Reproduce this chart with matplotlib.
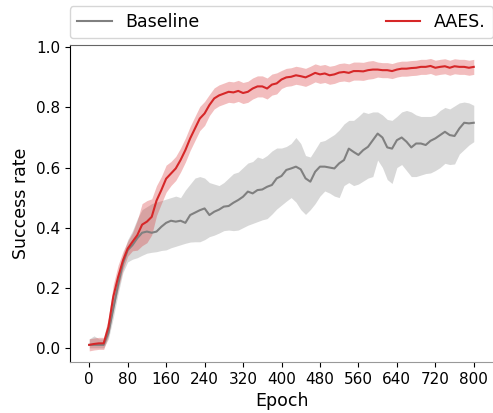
import numpy as np
import matplotlib
matplotlib.use("Agg")
import matplotlib.pyplot as plt

# Success rate per epoch, sampled every 10 epochs
epochs = np.arange(0, 801, 10)

baseline_mean = [
    0.01, 0.01, 0.01, 0.01, 0.05, 0.13, 0.21, 0.28, 0.325, 0.342,
    0.365, 0.383, 0.387, 0.383, 0.387, 0.403, 0.416, 0.423, 0.42, 0.423,
    0.416, 0.442, 0.45, 0.458, 0.464, 0.442, 0.453, 0.46, 0.47, 0.472,
    0.483, 0.492, 0.503, 0.52, 0.514, 0.525, 0.527, 0.536, 0.542, 0.564,
    0.572, 0.592, 0.597, 0.603, 0.594, 0.564, 0.553, 0.586, 0.603, 0.603,
    0.6, 0.597, 0.614, 0.625, 0.663, 0.652, 0.642, 0.658, 0.669, 0.691,
    0.713, 0.7, 0.667, 0.663, 0.691, 0.7, 0.686, 0.667, 0.68, 0.68,
    0.675, 0.689, 0.697, 0.708, 0.719, 0.708, 0.705, 0.73, 0.749, 0.747,
    0.749,
]
baseline_lower = [
    0.0, 0.0, 0.0, 0.0, 0.03, 0.1, 0.18, 0.25, 0.286, 0.295,
    0.3, 0.308, 0.315, 0.318, 0.32, 0.324, 0.326, 0.333, 0.338, 0.343,
    0.348, 0.352, 0.353, 0.353, 0.36, 0.37, 0.375, 0.382, 0.39, 0.392,
    0.39, 0.392, 0.4, 0.408, 0.414, 0.42, 0.426, 0.43, 0.445, 0.462,
    0.475, 0.488, 0.5, 0.485, 0.46, 0.444, 0.46, 0.48, 0.505, 0.522,
    0.515, 0.505, 0.5, 0.54, 0.55, 0.54, 0.545, 0.555, 0.565, 0.57,
    0.625, 0.6, 0.56, 0.547, 0.6, 0.61, 0.59, 0.57, 0.57, 0.575,
    0.58, 0.582, 0.59, 0.6, 0.614, 0.61, 0.612, 0.645, 0.66, 0.675,
    0.686,
]
baseline_upper = [
    0.03, 0.04, 0.03, 0.03, 0.08, 0.16, 0.24, 0.31, 0.36, 0.39,
    0.43, 0.46, 0.47, 0.48, 0.485, 0.49, 0.495, 0.5, 0.505, 0.5,
    0.525, 0.545, 0.565, 0.57, 0.565, 0.55, 0.545, 0.54, 0.55, 0.565,
    0.58, 0.585, 0.6, 0.615, 0.62, 0.635, 0.63, 0.64, 0.655, 0.665,
    0.665, 0.67, 0.68, 0.7, 0.68, 0.64, 0.635, 0.66, 0.686, 0.69,
    0.7, 0.71, 0.725, 0.745, 0.757, 0.757, 0.77, 0.785, 0.78, 0.785,
    0.785, 0.775, 0.76, 0.757, 0.77, 0.785, 0.79, 0.785, 0.775, 0.77,
    0.77, 0.77, 0.775, 0.79, 0.8, 0.795, 0.805, 0.815, 0.818, 0.815,
    0.807,
]

aaes_mean = [
    0.01, 0.013, 0.015, 0.015, 0.07, 0.17, 0.235, 0.29, 0.33, 0.353,
    0.375, 0.41, 0.42, 0.436, 0.49, 0.525, 0.563, 0.58, 0.597, 0.625,
    0.658, 0.697, 0.73, 0.763, 0.78, 0.808, 0.83, 0.84, 0.846, 0.852,
    0.85, 0.855, 0.848, 0.852, 0.863, 0.87, 0.87, 0.863, 0.876, 0.88,
    0.893, 0.9, 0.902, 0.907, 0.904, 0.9, 0.907, 0.915, 0.91, 0.913,
    0.907, 0.91, 0.916, 0.918, 0.915, 0.921, 0.921, 0.92, 0.924, 0.926,
    0.926, 0.924, 0.924, 0.921, 0.926, 0.929, 0.929, 0.931, 0.932, 0.935,
    0.935, 0.938, 0.932, 0.935, 0.937, 0.932, 0.937, 0.935, 0.935, 0.932,
    0.935,
]
aaes_err = [
    0.02, 0.02, 0.02, 0.02, 0.03, 0.04, 0.04, 0.03, 0.025, 0.03,
    0.05, 0.07, 0.07, 0.06, 0.05, 0.045, 0.045, 0.04, 0.04, 0.04,
    0.04, 0.04, 0.04, 0.04, 0.04, 0.035, 0.035, 0.035, 0.035, 0.035,
    0.035, 0.035, 0.035, 0.035, 0.035, 0.035, 0.035, 0.035, 0.035, 0.035,
    0.03, 0.03, 0.03, 0.03, 0.03, 0.03, 0.03, 0.03, 0.03, 0.03,
    0.03, 0.03, 0.03, 0.03, 0.03, 0.03, 0.03, 0.03, 0.03, 0.03,
    0.025, 0.025, 0.025, 0.025, 0.025, 0.025, 0.025, 0.025, 0.025, 0.025,
    0.025, 0.025, 0.025, 0.025, 0.025, 0.025, 0.025, 0.025, 0.025, 0.025,
    0.025,
]

aaes_mean = np.array(aaes_mean)
aaes_err = np.array(aaes_err)

fig = plt.figure(figsize=(4.93, 4.13), dpi=100)
ax = fig.add_axes([0.142, 0.1235, 0.858, 0.767])

ax.fill_between(epochs, baseline_lower, baseline_upper, color="gray", alpha=0.3, linewidth=0)
ax.plot(epochs, baseline_mean, color="gray", linewidth=1.5, label="Baseline")
ax.fill_between(epochs, aaes_mean - aaes_err, aaes_mean + aaes_err,
                color="tab:red", alpha=0.3, linewidth=0)
ax.plot(epochs, aaes_mean, color="tab:red", linewidth=1.5, label="AAES.")

ax.set_xlim(-40, 840)
ax.set_ylim(-0.047, 1.007)
ax.set_xticks(np.arange(0, 801, 80))
ax.set_yticks(np.arange(0, 1.01, 0.2))
ax.tick_params(labelsize=11)
ax.set_xlabel("Epoch", fontsize=12.5)
ax.set_ylabel("Success rate", fontsize=12.5)

ax.spines["right"].set_visible(False)
ax.spines["top"].set_color("0.4")
ax.spines["bottom"].set_color("0.6")

ax.legend(bbox_to_anchor=(0, 1.022, 1, 0.1), loc="lower left", mode="expand",
          ncol=2, borderaxespad=0, fontsize=12.5)

fig.savefig("out.png", dpi=100)
